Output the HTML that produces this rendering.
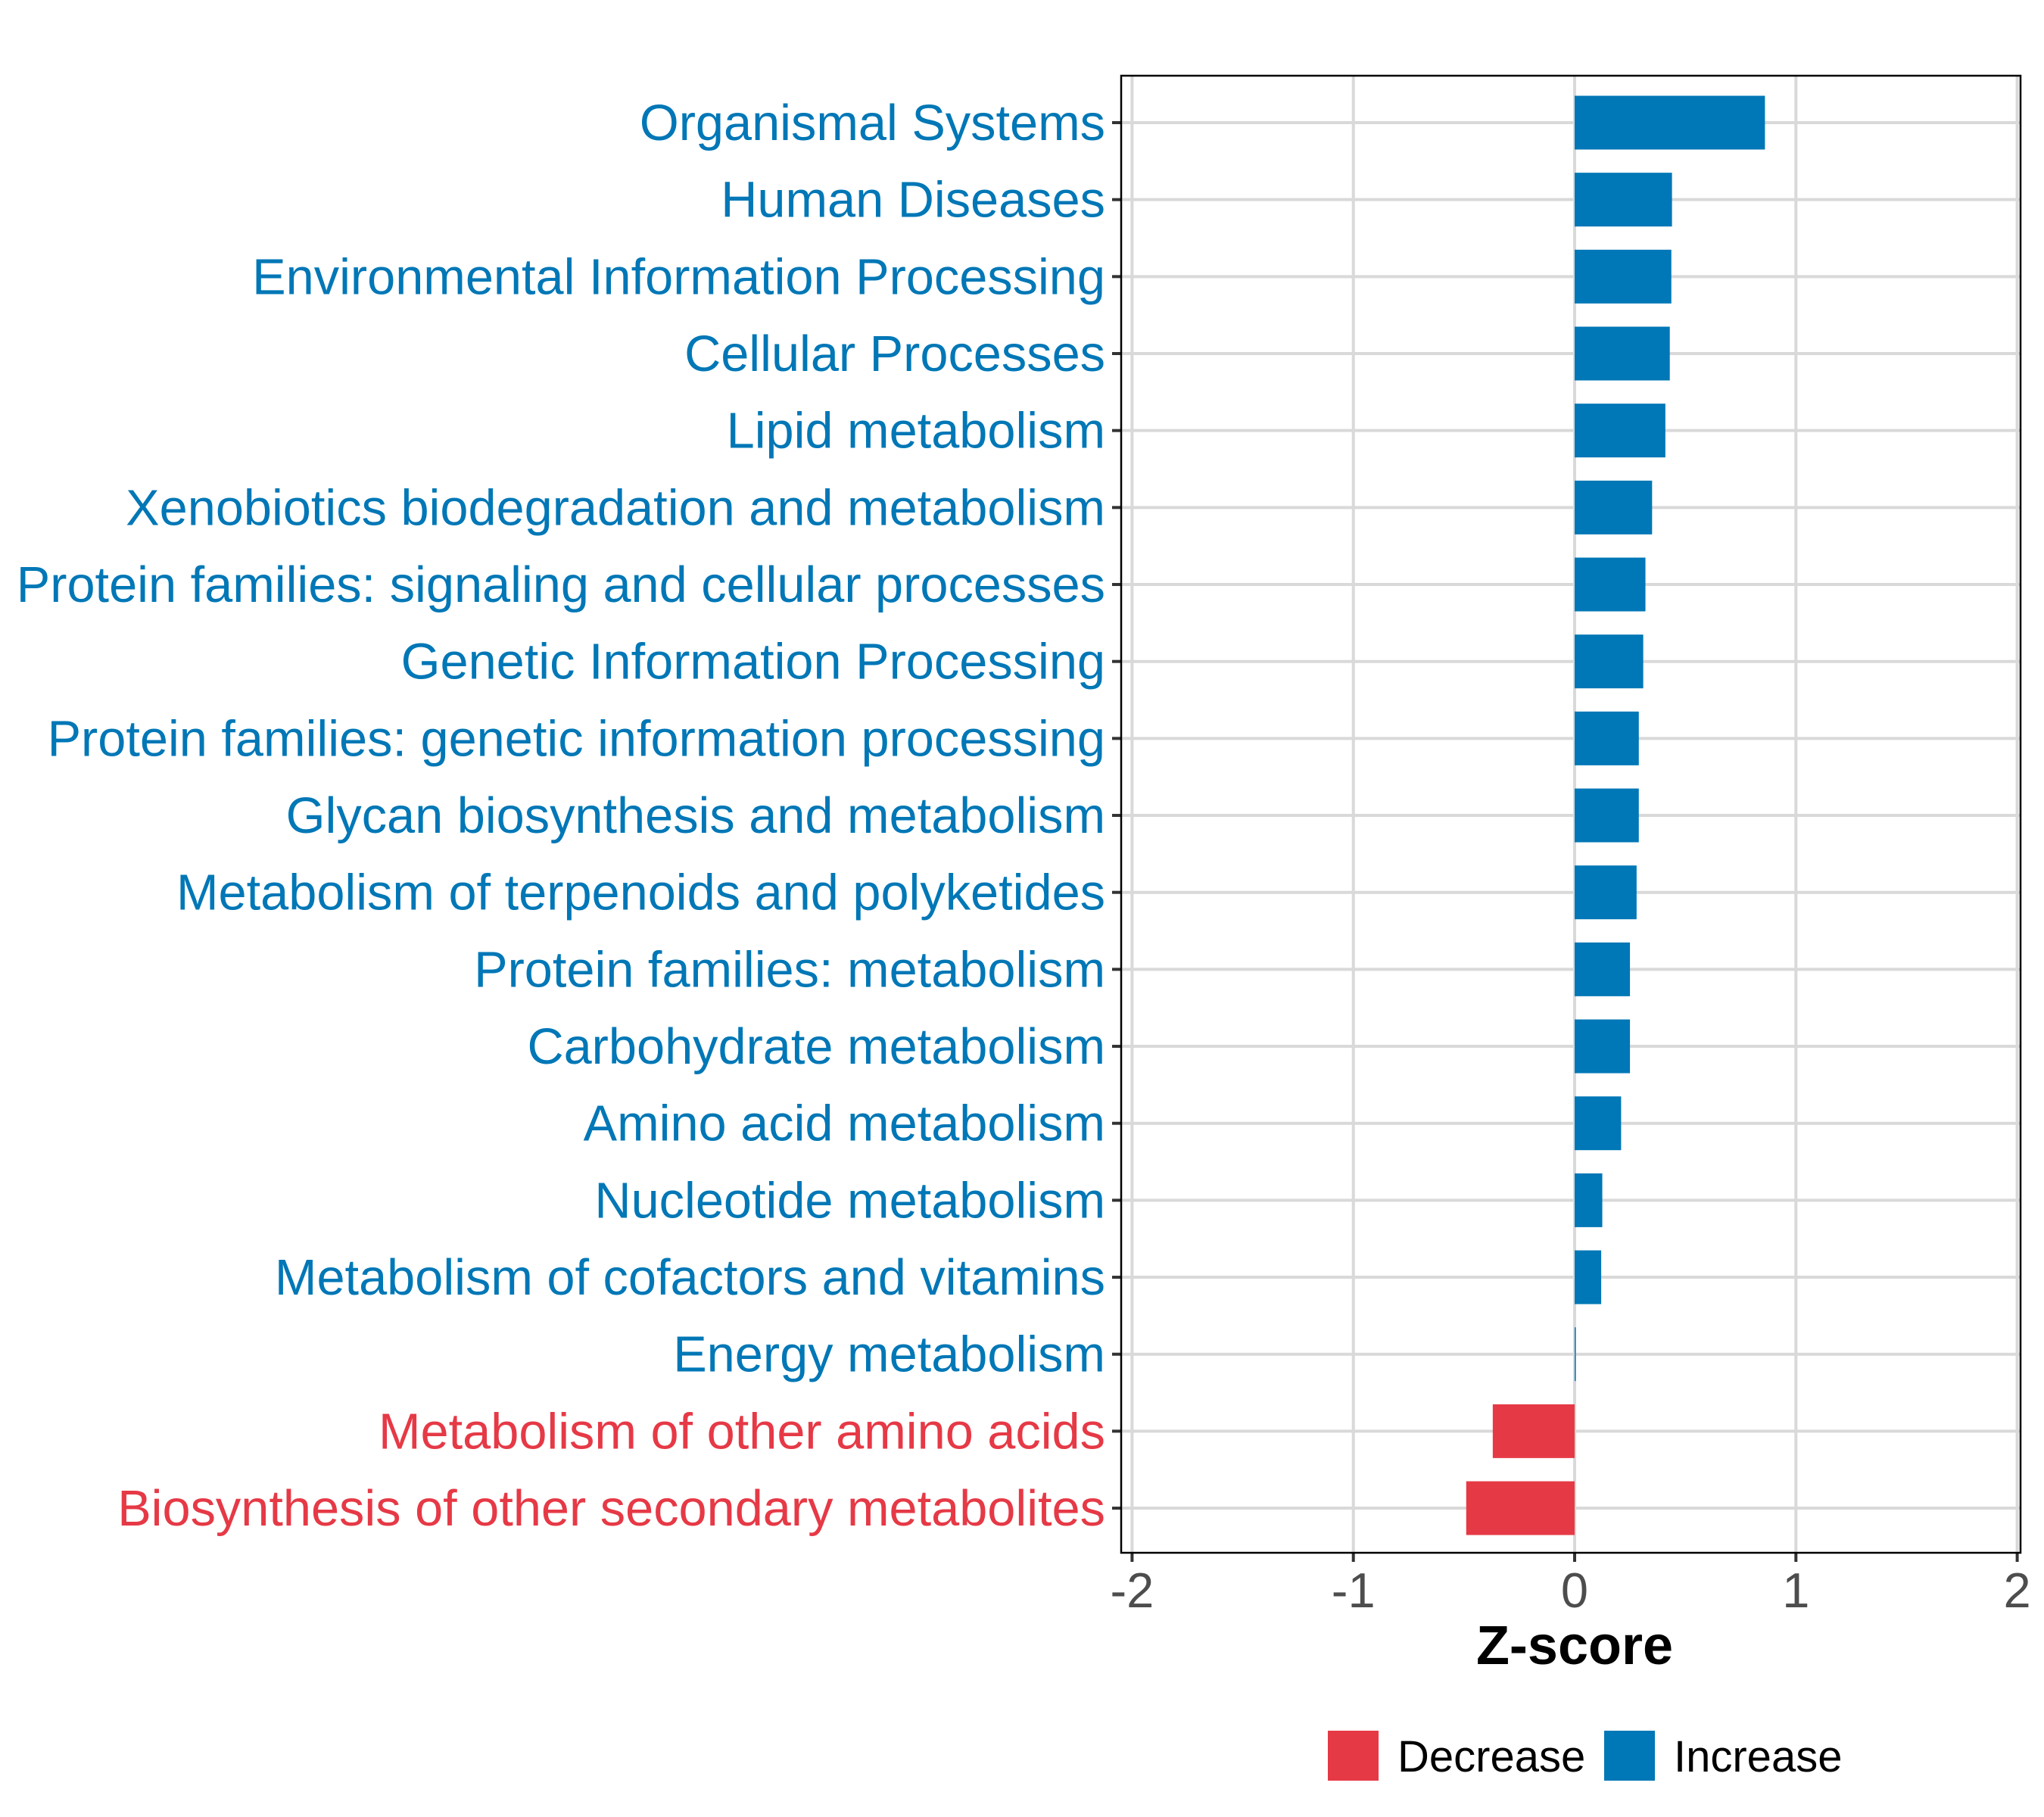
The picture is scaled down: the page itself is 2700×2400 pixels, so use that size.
<!DOCTYPE html>
<html><head><meta charset="utf-8"><style>body{margin:0;background:#fff}svg{display:block}text{font-family:"Liberation Sans",Arial,sans-serif}</style></head>
<body>
<svg id="chart" width="2700" height="2400" viewBox="0 0 2700 2400" xmlns="http://www.w3.org/2000/svg">
<rect width="2700" height="2400" fill="#fff"/>
<g id="grid"></g><g id="bars"></g><g id="ylabels"></g><g id="xaxis"></g>
<rect x="1481" y="100" width="1188" height="1951" fill="none" stroke="#000" stroke-width="2.5"/>
<text x="2080" y="2198" font-size="72" font-weight="bold" text-anchor="middle" fill="#000">Z-score</text>
<g>
<rect x="1754" y="2286" width="67" height="66" fill="#E63946"/>
<text x="1846" y="2340" font-size="58" fill="#000">Decrease</text>
<rect x="2119" y="2286" width="67" height="66" fill="#0077B6"/>
<text x="2211" y="2340" font-size="58" fill="#000">Increase</text>
</g>
</svg>
<script>
const categories = ["Organismal Systems","Human Diseases","Environmental Information Processing","Cellular Processes","Lipid metabolism","Xenobiotics biodegradation and metabolism","Protein families: signaling and cellular processes","Genetic Information Processing","Protein families: genetic information processing","Glycan biosynthesis and metabolism","Metabolism of terpenoids and polyketides","Protein families: metabolism","Carbohydrate metabolism","Amino acid metabolism","Nucleotide metabolism","Metabolism of cofactors and vitamins","Energy metabolism","Metabolism of other amino acids","Biosynthesis of other secondary metabolites"];
const zscores = [0.86,0.44,0.437,0.43,0.41,0.35,0.32,0.31,0.29,0.29,0.28,0.25,0.25,0.21,0.125,0.12,0.004,-0.37,-0.49];
const xTicks = [-2,-1,0,1,2];
const xTickLabels = ["-2","-1","0","1","2"];
const NS="http://www.w3.org/2000/svg";
const x = v => 2080 + v*292.3;
const y = i => 162 + i*101.67;
function mk(tag, attrs, parent){const e=document.createElementNS(NS,tag);for(const k in attrs)e.setAttribute(k,attrs[k]);parent.appendChild(e);return e;}
const grid=document.getElementById('grid'),bars=document.getElementById('bars'),yl=document.getElementById('ylabels'),xa=document.getElementById('xaxis');
xTicks.forEach((t,j)=>{
  const g=mk('line',{x1:x(t),x2:x(t),y1:100,y2:2051,stroke:'#d9d9d9','stroke-width':4},grid);
  
  
  const tk=mk('line',{x1:x(t),x2:x(t),y1:2051,y2:2063,stroke:'#333','stroke-width':4},xa);
  
  
  const tl=mk('text',{x:x(t),y:2123,'font-size':65,'text-anchor':'middle',fill:'#4d4d4d'},xa);
  tl.textContent=xTickLabels[j];
  
  
});
categories.forEach((c,i)=>{
  const g=mk('line',{x1:1481,x2:2669,y1:y(i),y2:y(i),stroke:'#d9d9d9','stroke-width':4},grid);
  
  
  const v=zscores[i], col=v<0?'#E63946':'#0077B6';
  const b=mk('rect',{x:Math.min(x(0),x(v)),y:y(i)-35.5,width:Math.max(Math.abs(x(v)-x(0)),1.5),height:71,fill:col},bars);
  
  
  const tk=mk('line',{x1:1469,x2:1481,y1:y(i),y2:y(i),stroke:'#333','stroke-width':4},yl);
  
  
  const t=mk('text',{x:1460,y:y(i)+23,'font-size':66.7,'text-anchor':'end',fill:col},yl);
  t.textContent=c;
  
  
});
</script>
</body></html>
